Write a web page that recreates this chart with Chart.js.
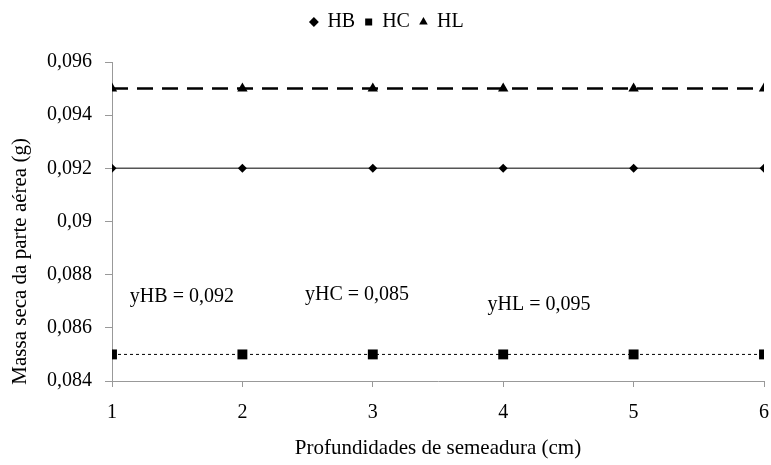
<!DOCTYPE html>
<html>
<head>
<meta charset="utf-8">
<script src="https://cdn.jsdelivr.net/npm/chart.js@4"></script>
<style>
  html, body { margin: 0; padding: 0; background: #fff; }
  #wrap { width: 771px; height: 465px; position: relative; }
</style>
</head>
<body>
<div id="wrap"><canvas id="chart"></canvas></div>
<script>
// profundidades (cm)
const depths = [1, 2, 3, 4, 5, 6];
const hb = [0.092, 0.092, 0.092, 0.092, 0.092, 0.092];
const hc = [0.085, 0.085, 0.085, 0.085, 0.085, 0.085];
const hl = [0.095, 0.095, 0.095, 0.095, 0.095, 0.095];
const yTicks = [0.084, 0.086, 0.088, 0.09, 0.092, 0.094, 0.096];
// equation labels, placed in data units (x = left edge, y = baseline)
const eqText = ['yHB = 0,092', 'yHC = 0,085', 'yHL = 0,095'];
const eqX = [1.137, 2.48, 3.88];
const eqY = [0.08696, 0.08704, 0.08667];
const yTitle = 'Massa seca da parte aérea (g)';

const serif = '"Liberation Serif", "Times New Roman", serif';
const fmt = (v) => String(Number(v.toFixed(3))).replace('.', ',');

const eqLabels = {
    id: 'eqLabels',
    afterDatasetsDraw(chart) {
        const { ctx, scales: { x, y } } = chart;
        ctx.save();
        ctx.font = '20px ' + serif;
        ctx.fillStyle = '#000';
        ctx.textBaseline = 'alphabetic';
        eqText.forEach((t, i) => ctx.fillText(t, x.getPixelForValue(eqX[i]), y.getPixelForValue(eqY[i])));
        // y axis title, centred a bit below the middle of the plot like the original
        const mid = y.getPixelForValue(0.0885);
        ctx.translate(20, mid);
        ctx.rotate(-Math.PI / 2);
        ctx.font = '21px ' + serif;
        ctx.textAlign = 'center';
        ctx.textBaseline = 'middle';
        ctx.fillText(yTitle, 0, 0);
        ctx.restore();
    },
};

// extra room under the legend
const legendGap = {
    id: 'legendGap',
    beforeInit(chart) {
        const fit = chart.legend.fit;
        chart.legend.fit = function () {
            fit.bind(chart.legend)();
            this.height += 20;
        };
    },
};

new Chart(document.getElementById('chart'), {
    type: 'line',
    data: {
        datasets: [
            { label: 'HB', data: depths.map((d, i) => ({ x: d, y: hb[i] })), borderColor: '#555', backgroundColor: '#000', borderWidth: 1.5, pointStyle: 'rectRot', pointRadius: 4.5, pointBorderWidth: 0 },
            { label: 'HC', data: depths.map((d, i) => ({ x: d, y: hc[i] })), borderColor: '#000', backgroundColor: '#000', borderWidth: 1, borderDash: [3, 3], pointStyle: 'rect', pointRadius: 7, pointBorderWidth: 0 },
            { label: 'HL', data: depths.map((d, i) => ({ x: d, y: hl[i] })), borderColor: '#000', backgroundColor: '#000', borderWidth: 2.5, borderDash: [16, 9], pointStyle: 'triangle', pointRadius: 6, pointBorderWidth: 0 },
        ],
    },
    options: {
        responsive: true,
        maintainAspectRatio: false,
        animation: false,
        layout: { padding: { left: 0, right: -3, top: 2, bottom: 2 } },
        plugins: {
            legend: {
                position: 'top',
                labels: { usePointStyle: true, boxWidth: 7, boxHeight: 7, padding: 10, color: '#000', font: { family: serif, size: 20 } },
            },
            tooltip: { enabled: false },
        },
        scales: {
            x: {
                type: 'linear', min: 1, max: 6,
                ticks: { stepSize: 1, color: '#000', font: { family: serif, size: 20 }, padding: 14 },
                grid: { drawOnChartArea: false, tickLength: 6, color: '#999' },
                border: { color: '#999' },
                title: { display: true, text: 'Profundidades de semeadura (cm)', color: '#000', font: { family: serif, size: 21 }, padding: { top: 6, bottom: 2 } },
                afterFit: (s) => { s.height = 82; s.paddingLeft = 0; s.paddingRight = 0; },
            },
            y: {
                min: 0.084, max: 0.096,
                afterBuildTicks: (s) => { s.ticks = yTicks.map((v) => ({ value: v })); },
                ticks: { callback: (v) => fmt(v), color: '#000', font: { family: serif, size: 20 }, padding: 13 },
                grid: { drawOnChartArea: false, tickLength: 7, color: '#999' },
                border: { color: '#999' },
                title: { display: false },
                afterFit: (s) => { s.width = 112; s.paddingTop = 0; s.paddingBottom = 0; },
            },
        },
    },
    plugins: [eqLabels, legendGap],
});
</script>
</body>
</html>
